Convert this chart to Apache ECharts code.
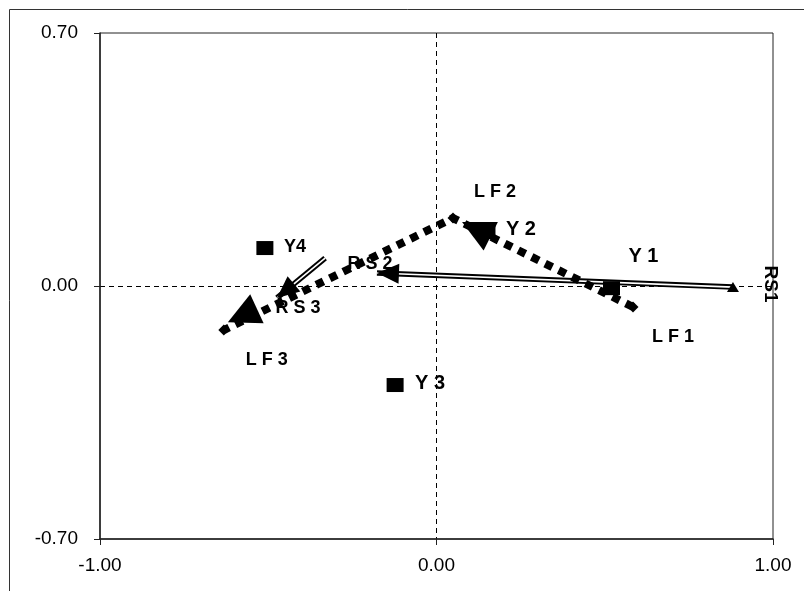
<!DOCTYPE html>
<html>
<head>
<meta charset="utf-8">
<script src="https://cdn.jsdelivr.net/npm/echarts@6/dist/echarts.min.js"></script>
<style>
  html, body { margin: 0; padding: 0; background: #fff; }
  #chart { width: 804px; height: 591px; }
</style>
</head>
<body>
<div id="chart"></div>
<script>
// axis ranges and ticks
var xMin = -1, xMax = 1, xStep = 1;
var yMin = -0.7, yMax = 0.7, yStep = 0.7;

// Y points (squares)
var yNames = ['Y1', 'Y2', 'Y3', 'Y4'];
var yXs = [0.520, 0.150, -0.123, -0.510];
var yYs = [-0.006, 0.149, -0.274, 0.105];

// LF path (thick dotted)
var lfNames = ['LF1', 'LF2', 'LF3'];
var lfXs = [0.584, 0.049, -0.632];
var lfYs = [-0.058, 0.188, -0.122];
// where the LF arrow heads end
var lfTipXs = [0.076, -0.620];
var lfTipYs = [0.177, -0.100];

// RS path (double line)
var rsNames = ['RS1', 'RS2', 'RS3'];
var rsXs = [0.881, -0.177, -0.474];
var rsYs = [-0.003, 0.036, -0.033];
// the second RS arrow starts here
var rs2StartX = -0.331, rs2StartY = 0.077;

var font = 'Liberation Sans';

//label placement
var labelCfg = {
    Y1: { off: [32, -32], size: 20 },
    Y2: { off: [34, -3], size: 20 },
    Y3: { off: [35, -2], size: 20 },
    Y4: { off: [30, -1], size: 18, tight: true },
    LF1: { off: [40, 30], size: 18 },
    LF2: { off: [42, -26], size: 18 },
    LF3: { off: [43, 30], size: 18 },
    RS1: { off: [-3, -37], size: 19, rotate: -90, tight: true }, // offset is in the rotated frame
    RS2: { off: [-7, -9], size: 18 },
    RS3: { off: [21, 10], size: 18 }
};

function labelFor(name) {
    var c = labelCfg[name];
    return {
        show: true,
        position: 'inside',
        offset: c.off,
        rotate: c.rotate || 0,
        formatter: c.tight ? name : name.split('').join(' '),
        color: '#000',
        opacity: 1,
        fontFamily: font,
        fontWeight: 'bold',
        fontSize: c.size
    };
}

function pairs(xs, ys) {
    var out = [];
    for (var i = 0; i < xs.length; i++) out.push([xs[i], ys[i]]);
    return out;
}

// arrow head drawn at the end of a segment [x1, y1, x2, y2]
function arrowSeries(segs, len, half) {
    return {
        type: 'custom',
        coordinateSystem: 'cartesian2d',
        encode: { x: [0, 2], y: [1, 3] },
        data: segs,
        silent: true,
        renderItem: function (params, api) {
            var a = api.coord([api.value(0), api.value(1)]);
            var b = api.coord([api.value(2), api.value(3)]);
            var dx = b[0] - a[0], dy = b[1] - a[1];
            var d = Math.sqrt(dx * dx + dy * dy);
            var ux = dx / d, uy = dy / d;
            var bx = b[0] - ux * len, by = b[1] - uy * len;
            return {
                type: 'polygon',
                shape: { points: [b, [bx - uy * half, by + ux * half], [bx + uy * half, by - ux * half]] },
                style: { fill: '#000' }
            };
        }
    };
}

var rsSegs = [
    [rsXs[0], rsYs[0], rsXs[1], rsYs[1]],
    [rs2StartX, rs2StartY, rsXs[2], rsYs[2]]
];
var lfSegs = [
    [lfXs[0], lfYs[0], lfTipXs[0], lfTipYs[0]],
    [lfXs[1], lfYs[1], lfTipXs[1], lfTipYs[1]]
];

var rsLines = rsSegs.map(function (s) { return { coords: [[s[0], s[1]], [s[2], s[3]]] }; });

var fmt = function (v) { return v.toFixed(2); };

var option = {
    animation: false,
    graphic: [{
        type: 'rect',
        shape: { x: 9.5, y: 9.5, width: 1000, height: 1000 },
        style: { fill: 'none', stroke: '#333', lineWidth: 1 },
        silent: true
    }],
    grid: {
        left: 100, right: 31, top: 33, bottom: 52,
        show: true, borderColor: '#222', borderWidth: 1
    },
    xAxis: {
        type: 'value', min: xMin, max: xMax, interval: xStep,
        axisLine: { onZero: false, lineStyle: { color: '#222', width: 1.5 } },
        axisTick: { length: 6, lineStyle: { color: '#222' } },
        axisLabel: { formatter: fmt, color: '#000', fontFamily: font, fontSize: 19, margin: 17 },
        splitLine: { show: true, showMinLine: false, showMaxLine: false, lineStyle: { color: '#000', type: [5, 4], width: 1 } }
    },
    yAxis: {
        type: 'value', min: yMin, max: yMax, interval: yStep,
        axisLine: { onZero: false, lineStyle: { color: '#222', width: 1.5 } },
        axisTick: { show: true, length: 6, lineStyle: { color: '#222' } },
        axisLabel: { formatter: fmt, color: '#000', fontFamily: font, fontSize: 19, margin: 22 },
        splitLine: { show: true, showMinLine: false, showMaxLine: false, lineStyle: { color: '#000', type: [5, 4], width: 1 } }
    },
    series: [
        {
            // LF dotted path
            type: 'line',
            data: pairs(lfXs, lfYs).map(function (p, i) {
                return { value: p, name: lfNames[i], label: labelFor(lfNames[i]) };
            }),
            symbol: 'diamond',
            symbolSize: 11,
            showAllSymbol: true,
            itemStyle: { color: '#000', opacity: 1 },
            lineStyle: { color: '#000', width: 8, type: [8, 7], cap: 'butt' },
            silent: true
        },
        {
            type: 'lines',
            coordinateSystem: 'cartesian2d',
            data: rsLines,
            lineStyle: { color: '#000', width: 5.5, opacity: 1 },
            symbol: 'none',
            silent: true
        },
        {
            type: 'lines',
            coordinateSystem: 'cartesian2d',
            data: rsLines,
            lineStyle: { color: '#fff', width: 1.6, opacity: 1 },
            symbol: 'none',
            silent: true
        },
        {
            // Y squares
            type: 'scatter',
            data: pairs(yXs, yYs).map(function (p, i) {
                return { value: p, name: yNames[i], label: labelFor(yNames[i]) };
            }),
            symbol: 'rect',
            symbolSize: [17, 14],
            itemStyle: { color: '#000', opacity: 1 },
            silent: true
        },
        arrowSeries(rsSegs, 22, 10),
        arrowSeries(lfSegs, 32, 16),
        {
            // RS1 start marker
            type: 'scatter',
            data: [[rsXs[0], rsYs[0]]],
            symbol: 'triangle',
            symbolSize: [12, 10],
            itemStyle: { color: '#000', opacity: 1 },
            silent: true
        },
        {
            // RS labels
            type: 'scatter',
            data: pairs(rsXs, rsYs).map(function (p, i) {
                return { value: p, name: rsNames[i], label: labelFor(rsNames[i]) };
            }),
            symbol: 'rect',
            symbolSize: 2,
            itemStyle: { color: 'rgba(0,0,0,0)' },
            silent: true
        }
    ]
};

var chart = echarts.init(document.getElementById('chart'));
chart.setOption(option);
</script>
</body>
</html>
